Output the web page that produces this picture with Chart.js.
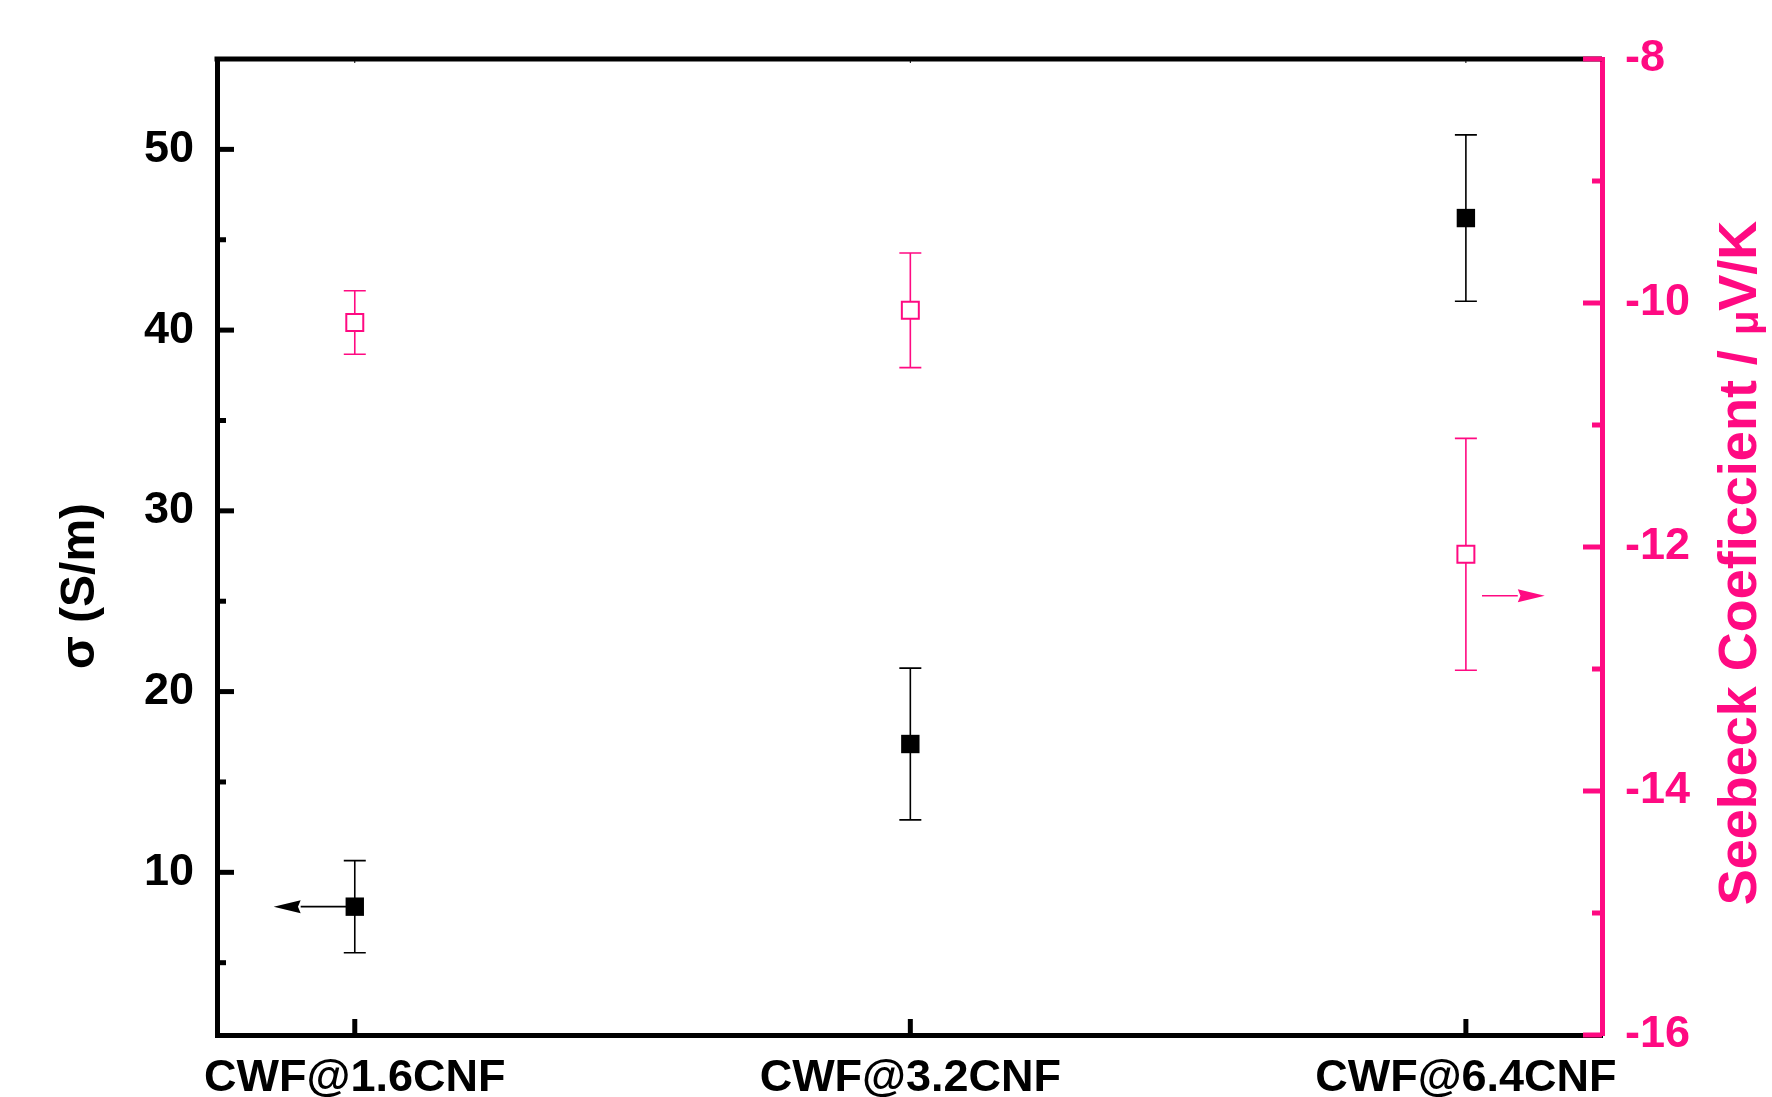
<!DOCTYPE html>
<html><head><meta charset="utf-8">
<script src="https://cdn.jsdelivr.net/npm/chart.js@4.4.1/dist/chart.umd.min.js"></script>
<style>html,body{margin:0;padding:0;background:#fff;} #wrap{width:1772px;height:1097px;}</style>
</head><body><div id="wrap"><canvas id="c" width="1772" height="1097"></canvas></div>
<script>
const categories = ['CWF@1.6CNF', 'CWF@3.2CNF', 'CWF@6.4CNF'];
const sigmaValues = [8.1, 17.1, 46.2];
const sigmaErrors = [2.55, 4.2, 4.6];
const seebeckValues = [-10.16, -10.06, -12.06];
const seebeckErrors = [0.26, 0.47, 0.95];
const sigmaTicks = [10, 20, 30, 40, 50];
const sigmaMinorTicks = [5, 15, 25, 35, 45];
const seebeckTicks = [-16, -14, -12, -10, -8];
const seebeckMinorTicks = [-15, -13, -11, -9];
const sigmaArrow = {from: 0, to: -0.146, y: 8.1};
const seebeckArrow = {from: 2.029, to: 2.142, y: -12.4};

const PINK = '#ff0a82';
const FONT = '"Liberation Sans", Arial, sans-serif';

function drawErr(ctx, xs, ys, vals, errs, color) {
  ctx.save(); ctx.strokeStyle = color; ctx.lineWidth = 1.6;
  vals.forEach((v, i) => {
    const px = xs.getPixelForValue(i);
    const top = ys.getPixelForValue(v + errs[i]);
    const bot = ys.getPixelForValue(v - errs[i]);
    ctx.beginPath();
    ctx.moveTo(px, top); ctx.lineTo(px, bot);
    ctx.moveTo(px - 11, top); ctx.lineTo(px + 11, top);
    ctx.moveTo(px - 11, bot); ctx.lineTo(px + 11, bot);
    ctx.stroke();
  });
  ctx.restore();
}
function drawArrow(ctx, xs, ys, a, color) {
  const x0 = xs.getPixelForValue(a.from), x1 = xs.getPixelForValue(a.to), y = ys.getPixelForValue(a.y);
  const dir = Math.sign(x1 - x0), headLen = 27, headHalf = 6.5;
  ctx.save(); ctx.strokeStyle = color; ctx.fillStyle = color; ctx.lineWidth = 1.6;
  ctx.beginPath(); ctx.moveTo(x0, y); ctx.lineTo(x1 - dir * headLen, y); ctx.stroke();
  ctx.beginPath(); ctx.moveTo(x1, y); ctx.lineTo(x1 - dir * headLen, y - headHalf);
  ctx.lineTo(x1 - dir * headLen * 0.9, y); ctx.lineTo(x1 - dir * headLen, y + headHalf); ctx.closePath(); ctx.fill();
  ctx.restore();
}
function tickLine(ctx, x0, y0, x1, y1, color, w) {
  ctx.save(); ctx.strokeStyle = color; ctx.lineWidth = w; ctx.lineCap = 'butt';
  ctx.beginPath(); ctx.moveTo(x0, y0); ctx.lineTo(x1, y1); ctx.stroke(); ctx.restore();
}

const framePlugin = {
  id: 'frame',
  beforeDatasetsDraw(chart) {
    const {ctx, scales} = chart;
    drawErr(ctx, scales.x, scales.y, sigmaValues, sigmaErrors, '#000');
    drawErr(ctx, scales.x, scales.y2, seebeckValues, seebeckErrors, PINK);
    drawArrow(ctx, scales.x, scales.y, sigmaArrow, '#000');
    drawArrow(ctx, scales.x, scales.y2, seebeckArrow, PINK);
  },
  afterDraw(chart) {
    const {ctx, chartArea: ca, scales} = chart;
    tickLine(ctx, ca.left - 2.5, ca.top, ca.right, ca.top, '#000', 5);
    sigmaTicks.forEach(v => { const y = scales.y.getPixelForValue(v); tickLine(ctx, ca.left, y, ca.left + 17, y, '#000', 5); });
    sigmaMinorTicks.forEach(v => { const y = scales.y.getPixelForValue(v); tickLine(ctx, ca.left, y, ca.left + 9, y, '#000', 5); });
    categories.forEach((c, i) => {
      const x = scales.x.getPixelForValue(i);
      tickLine(ctx, x, ca.bottom, x, ca.bottom - 16, '#000', 5);
      tickLine(ctx, x, ca.top, x, ca.top + 4, '#000', 1);
    });
    seebeckTicks.forEach(v => { const y = scales.y2.getPixelForValue(v); tickLine(ctx, ca.right, y, ca.right - 19, y, PINK, 5); });
    seebeckMinorTicks.forEach(v => { const y = scales.y2.getPixelForValue(v); tickLine(ctx, ca.right, y, ca.right - 10, y, PINK, 5); });
    // left title
    ctx.save();
    ctx.translate(81, 586); ctx.rotate(-Math.PI / 2);
    ctx.textAlign = 'center'; ctx.textBaseline = 'middle';
    ctx.fillStyle = '#000'; ctx.font = 'bold 48px ' + FONT;
    ctx.fillText('σ (S/m)', 0, 0);
    ctx.restore();
    // right title
    ctx.save();
    ctx.translate(1741, 563); ctx.rotate(-Math.PI / 2);
    ctx.textBaseline = 'middle'; ctx.fillStyle = PINK;
    const big = 'bold 54px ' + FONT, small = 'bold 40px ' + FONT;
    const parts = [['Seebeck Coeficcient / ', big, 0], ['μ', small, 6], ['V/K', big, 0]];
    let total = 0;
    parts.forEach(p => { ctx.font = p[1]; total += ctx.measureText(p[0]).width; });
    let x = -total / 2;
    ctx.textAlign = 'left';
    parts.forEach(p => { ctx.font = p[1]; ctx.fillText(p[0], x, p[2]); x += ctx.measureText(p[0]).width; });
    ctx.restore();
  }
};

new Chart(document.getElementById('c'), {
  type: 'scatter',
  data: {
    datasets: [
      {
        label: 'σ',
        data: sigmaValues.map((v, i) => ({x: i, y: v})),
        yAxisID: 'y',
        pointStyle: 'rect', pointRadius: 13, pointHoverRadius: 13,
        backgroundColor: '#000', borderColor: '#000', borderWidth: 0
      },
      {
        label: 'Seebeck',
        data: seebeckValues.map((v, i) => ({x: i, y: v})),
        yAxisID: 'y2',
        pointStyle: 'rect', pointRadius: 12, pointHoverRadius: 12,
        backgroundColor: '#fff', borderColor: PINK, borderWidth: 2
      }
    ]
  },
  options: {
    responsive: false,
    animation: false,
    devicePixelRatio: 1,
    layout: {padding: {top: 59, left: 0, right: 0, bottom: 0}},
    plugins: {legend: {display: false}, tooltip: {enabled: false}},
    scales: {
      x: {
        type: 'linear', position: 'bottom', min: -0.248, max: 2.245,
        afterBuildTicks: s => { s.ticks = categories.map((_, i) => ({value: i})); },
        afterFit: s => { s.height = 62; },
        grid: {display: false, drawTicks: false},
        border: {display: true, color: '#000', width: 5},
        ticks: {
          callback: v => categories[v] ?? '',
          color: '#000', font: {family: FONT, size: 45, weight: 'bold'},
          padding: 17, maxRotation: 0, autoSkip: false
        }
      },
      y: {
        type: 'linear', position: 'left', min: 1, max: 55,
        afterBuildTicks: s => { s.ticks = sigmaTicks.map(v => ({value: v})); },
        afterFit: s => { s.width = 217; },
        grid: {display: false, drawTicks: false},
        border: {display: true, color: '#000', width: 5},
        ticks: {color: '#000', font: {family: FONT, size: 45, weight: 'bold'}, padding: 23}
      },
      y2: {
        type: 'linear', position: 'right', min: -16, max: -8,
        afterBuildTicks: s => { s.ticks = seebeckTicks.map(v => ({value: v})); },
        afterFit: s => { s.width = 170; },
        grid: {display: false, drawTicks: false},
        border: {display: true, color: PINK, width: 5},
        ticks: {color: PINK, font: {family: FONT, size: 45, weight: 'bold'}, padding: 23}
      }
    }
  },
  plugins: [framePlugin]
});
</script>
</body></html>
